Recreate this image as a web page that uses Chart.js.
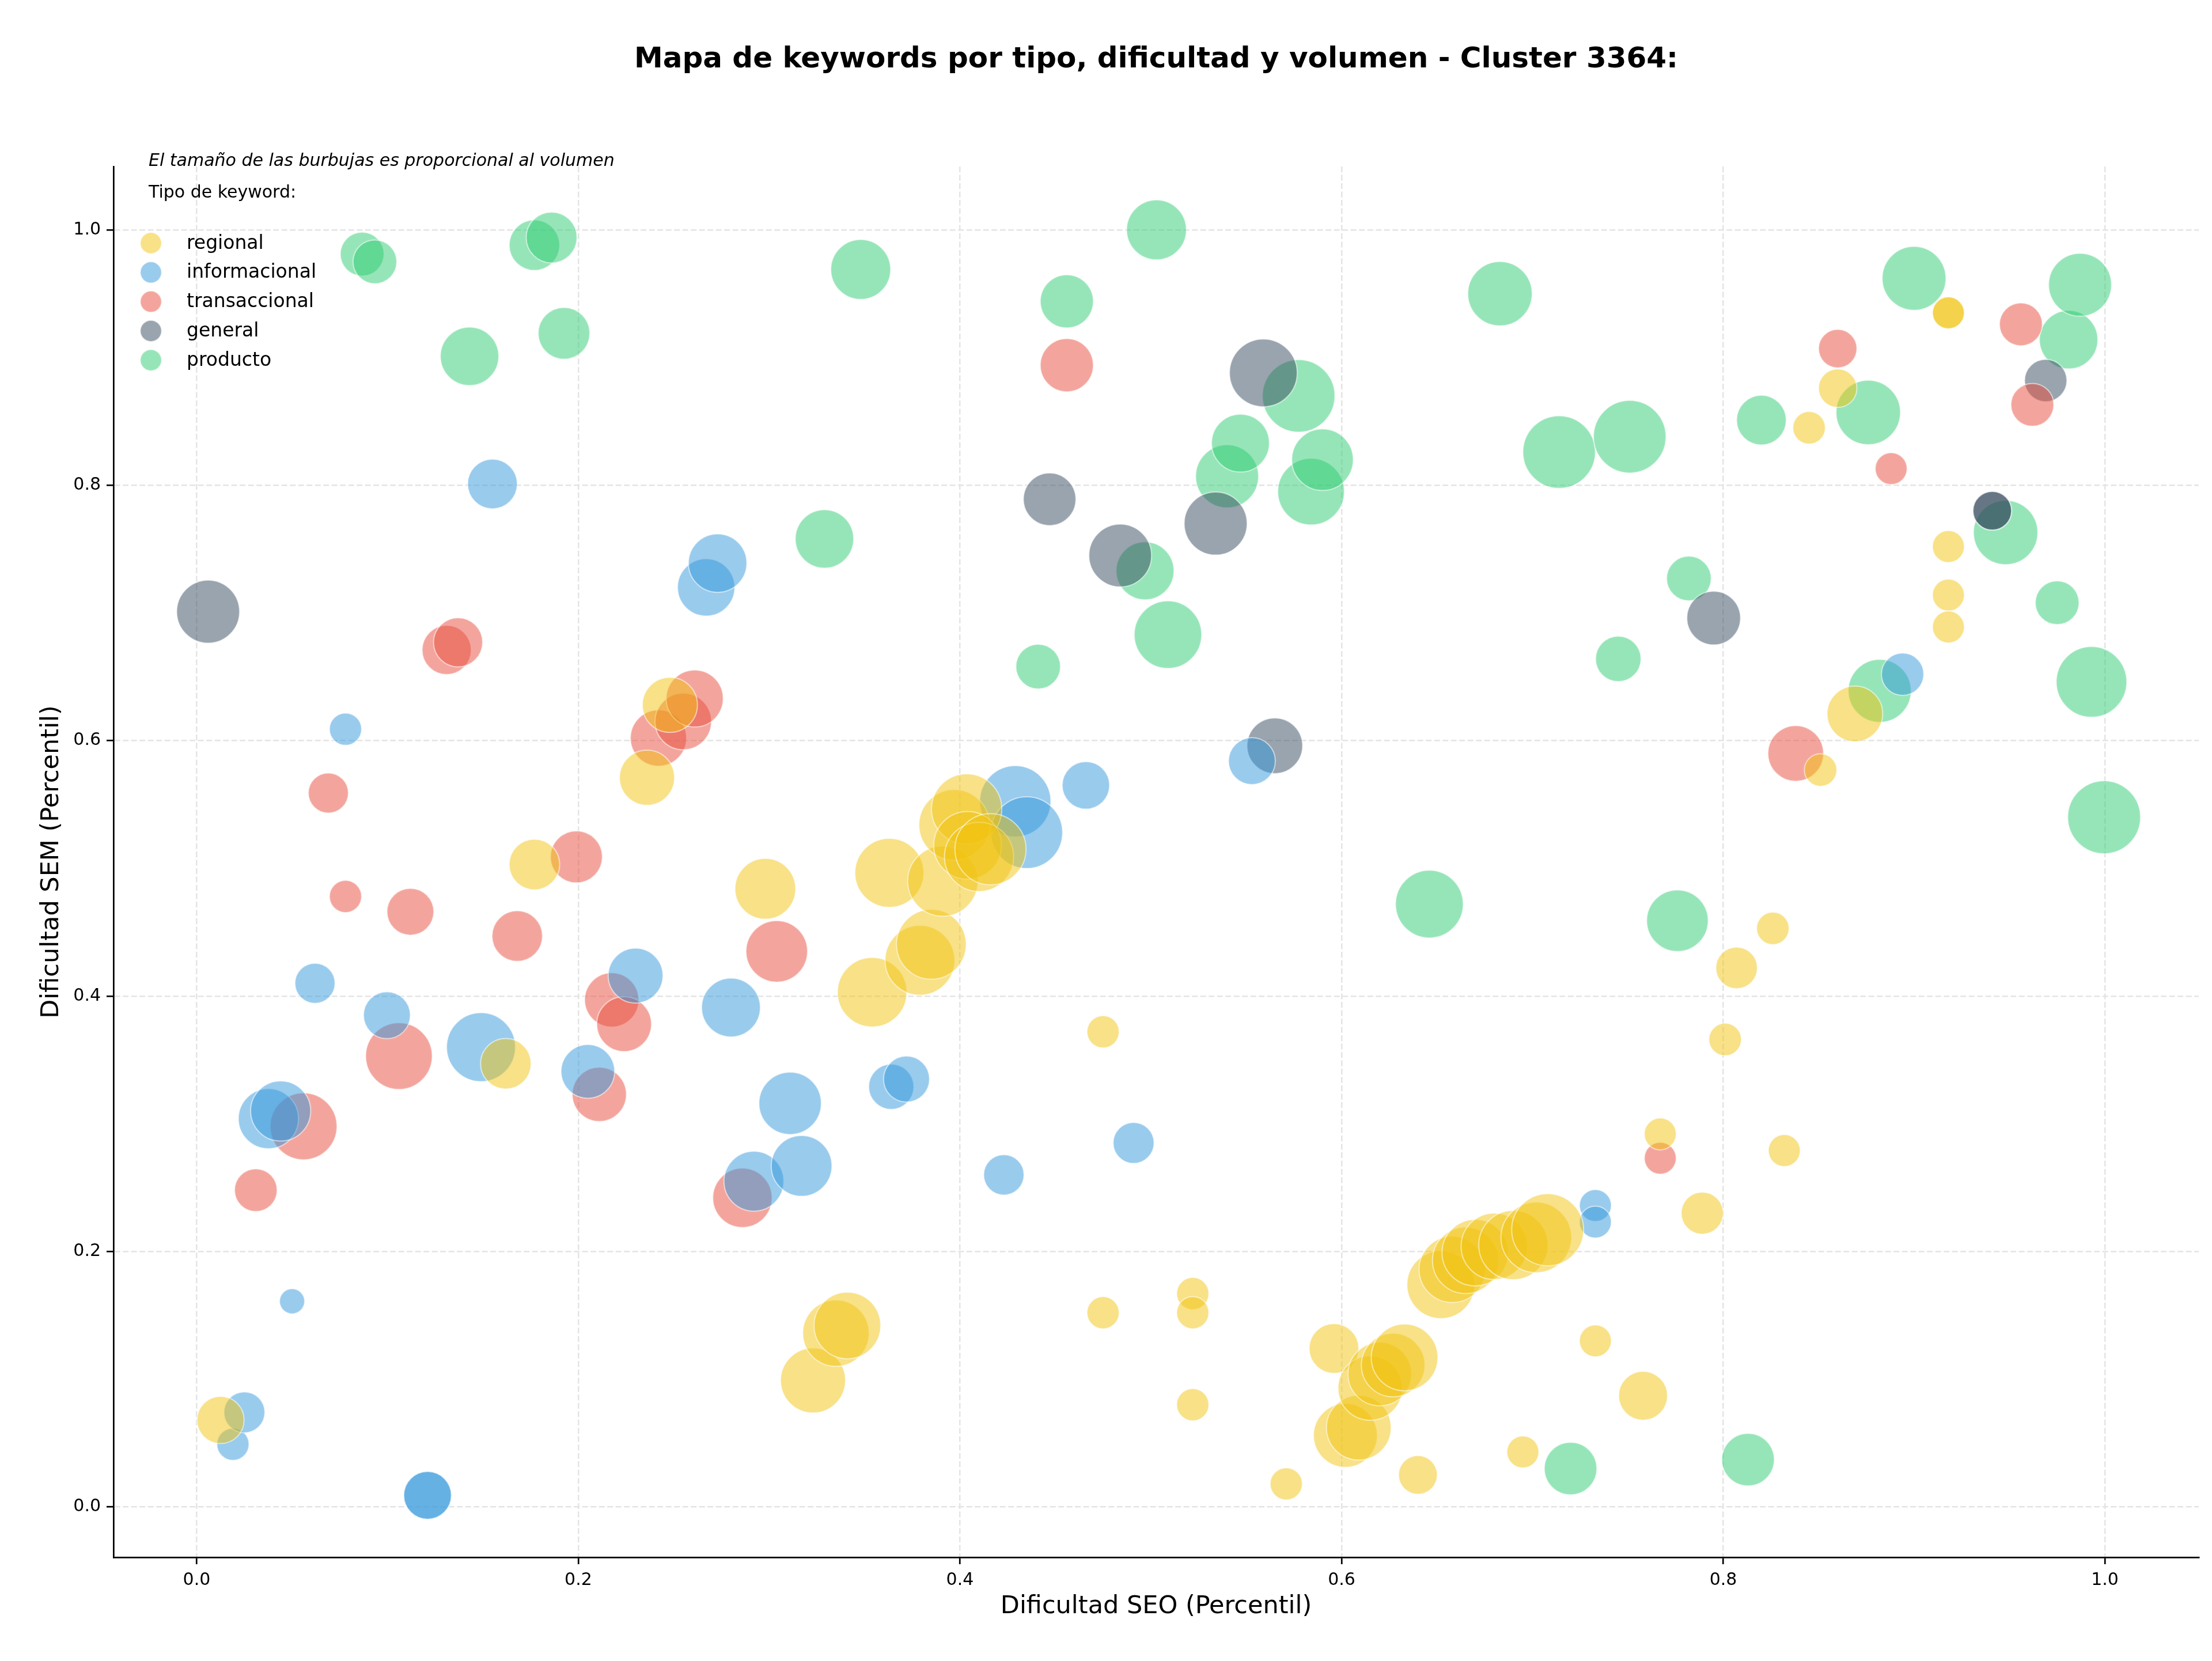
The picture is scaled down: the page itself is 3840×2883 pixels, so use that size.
<!DOCTYPE html>
<html>
<head>
<meta charset="utf-8">
<script src="https://cdn.jsdelivr.net/npm/chart.js@4.4.1/dist/chart.umd.min.js"></script>
<style>
  html, body { margin: 0; padding: 0; background: #fff; }
  #wrap { width: 3840px; height: 2883px; }
</style>
</head>
<body>
<div id="wrap"><canvas id="chart" width="3840" height="2883"></canvas></div>
<script>
// Tipos de keyword (orden de la leyenda)
const tipos = ['regional', 'informacional', 'transaccional', 'general', 'producto'];

// [dificultad SEO, dificultad SEM, volumen relativo]
const regional = [
  [0.0125, 0.068, 16.7], [0.162, 0.347, 17.9], [0.177, 0.503, 17.9], [0.236, 0.571, 19.5],
  [0.248, 0.628, 19.5], [0.298, 0.484, 21.5], [0.323, 0.099, 23], [0.335, 0.136, 23.5],
  [0.341, 0.142, 23.6], [0.354, 0.403, 24.6], [0.363, 0.4965, 24.4], [0.379, 0.428, 24.7],
  [0.385, 0.4405, 24.7], [0.391, 0.490, 24.9], [0.397, 0.534, 25], [0.4035, 0.5465, 24.9],
  [0.404, 0.518, 24], [0.410, 0.509, 24.5], [0.416, 0.515, 25.2], [0.475, 0.372, 11.4],
  [0.475, 0.152, 11.4], [0.522, 0.167, 11.4], [0.522, 0.152, 11.4], [0.522, 0.080, 11.4],
  [0.571, 0.018, 11.4], [0.596, 0.124, 17.6], [0.602, 0.056, 22.6], [0.609, 0.062, 22.9],
  [0.615, 0.093, 22.8], [0.620, 0.104, 22.5], [0.627, 0.111, 22.5], [0.633, 0.117, 23.6],
  [0.640, 0.025, 13.7], [0.652, 0.174, 24], [0.658, 0.186, 23.5], [0.665, 0.193, 23.5],
  [0.670, 0.199, 23.5], [0.680, 0.204, 23.5], [0.690, 0.205, 24.5], [0.702, 0.211, 25],
  [0.708, 0.217, 25.5], [0.695, 0.043, 11.3], [0.733, 0.130, 11.3], [0.758, 0.087, 17.3],
  [0.767, 0.292, 11.3], [0.789, 0.230, 14.9], [0.801, 0.366, 11.5], [0.807, 0.422, 14.7],
  [0.826, 0.453, 11.5], [0.832, 0.279, 11.3], [0.845, 0.845, 11.5], [0.851, 0.577, 11.5],
  [0.860, 0.876, 13.6], [0.869, 0.621, 19.7], [0.918, 0.935, 11.3], [0.918, 0.935, 11.3],
  [0.918, 0.752, 11.3], [0.918, 0.714, 11.3], [0.918, 0.689, 11.3]
];
const informacional = [
  [0.019, 0.049, 11.4], [0.025, 0.074, 14.5], [0.0376, 0.304, 21.3], [0.044, 0.310, 21.3],
  [0.050, 0.161, 8.9], [0.062, 0.410, 14.2], [0.078, 0.609, 11.4], [0.0997, 0.385, 16.6],
  [0.121, 0.009, 16.9], [0.121, 0.009, 16.9], [0.149, 0.360, 24.4], [0.155, 0.801, 17.6],
  [0.205, 0.341, 19], [0.230, 0.416, 19.4], [0.267, 0.720, 20.3], [0.273, 0.739, 20.7],
  [0.280, 0.391, 20.8], [0.292, 0.255, 21.2], [0.311, 0.316, 22.1], [0.317, 0.267, 21.5],
  [0.364, 0.329, 16], [0.372, 0.335, 16.3], [0.423, 0.260, 14.3], [0.429, 0.5525, 25.2],
  [0.435, 0.528, 25.4], [0.466, 0.565, 16.8], [0.491, 0.285, 14.5], [0.553, 0.584, 16.6],
  [0.733, 0.236, 11.3], [0.733, 0.223, 11.3], [0.894, 0.652, 15]
];
const transaccional = [
  [0.031, 0.248, 15.1], [0.056, 0.298, 23.7], [0.069, 0.559, 14.2], [0.078, 0.478, 11.4],
  [0.106, 0.353, 23.6], [0.112, 0.466, 16.6], [0.131, 0.671, 17.4], [0.137, 0.677, 17.4],
  [0.168, 0.447, 17.9], [0.199, 0.509, 18.4], [0.211, 0.323, 19.2], [0.2175, 0.397, 19.2],
  [0.224, 0.378, 19.4], [0.242, 0.602, 19.9], [0.255, 0.615, 20], [0.261, 0.633, 20.2],
  [0.286, 0.242, 21], [0.304, 0.435, 21.8], [0.456, 0.894, 18.8], [0.767, 0.273, 11.3],
  [0.838, 0.590, 19.7], [0.860, 0.907, 13.6], [0.888, 0.813, 11.3], [0.956, 0.926, 15.2],
  [0.962, 0.863, 15.2]
];
const general = [
  [0.006, 0.701, 22.3], [0.447, 0.789, 18.6], [0.484, 0.745, 22.2], [0.534, 0.770, 22.3],
  [0.559, 0.888, 24], [0.565, 0.596, 19.7], [0.795, 0.696, 19], [0.941, 0.780, 13.7],
  [0.941, 0.780, 13.7], [0.969, 0.882, 15]
];
const producto = [
  [0.0867, 0.981, 15.5], [0.0934, 0.975, 15.5], [0.143, 0.901, 20.7], [0.177, 0.988, 17.9],
  [0.186, 0.994, 18], [0.1925, 0.919, 18.3], [0.329, 0.758, 20.7], [0.348, 0.969, 21.2],
  [0.441, 0.658, 15.8], [0.456, 0.944, 18.8], [0.497, 0.733, 20.5], [0.503, 1.0, 21.2],
  [0.509, 0.683, 23.9], [0.540, 0.807, 22.3], [0.547, 0.833, 20.5], [0.5775, 0.870, 25.7],
  [0.584, 0.795, 23.6], [0.590, 0.820, 21.8], [0.646, 0.472, 24], [0.683, 0.950, 22.8],
  [0.714, 0.826, 25.7], [0.720, 0.030, 18.6], [0.745, 0.664, 16.1], [0.751, 0.838, 25.7],
  [0.776, 0.459, 21.8], [0.782, 0.727, 15.8], [0.813, 0.037, 18.6], [0.820, 0.851, 17.6],
  [0.876, 0.857, 22.8], [0.882, 0.639, 22.3], [0.900, 0.962, 22.6], [0.948, 0.763, 22.8],
  [0.975, 0.708, 15.5], [0.981, 0.914, 20.7], [0.987, 0.957, 22.3], [0.993, 0.646, 25],
  [0.9996, 0.540, 25.8]
];

const xTicks = [0.0, 0.2, 0.4, 0.6, 0.8, 1.0];
const yTicks = [0.0, 0.2, 0.4, 0.6, 0.8, 1.0];

const titulo = 'Mapa de keywords por tipo, dificultad y volumen - Cluster 3364:';
const nota = 'El tamaño de las burbujas es proporcional al volumen';
const tituloLeyenda = 'Tipo de keyword:';
const ejeX = 'Dificultad SEO (Percentil)';
const ejeY = 'Dificultad SEM (Percentil)';

// estilos
const colores = {
  regional: 'rgba(241,196,15,0.5)',
  informacional: 'rgba(52,152,219,0.5)',
  transaccional: 'rgba(231,76,60,0.5)',
  general: 'rgba(52,73,94,0.5)',
  producto: 'rgba(46,204,113,0.5)'
};
const borde = 'rgba(255,255,255,0.55)';
const escala = 2.449; // tamaño relativo -> px
const FONT = "'DejaVu Sans', sans-serif";

const series = { regional, informacional, transaccional, general, producto };

const datasets = tipos.map(t => ({
  label: t,
  data: series[t].map(p => ({ x: p[0], y: p[1], r: p[2] * escala })),
  backgroundColor: colores[t],
  borderColor: borde,
  borderWidth: 2
}));

const textos = {
  id: 'textos',
  afterDraw(chart) {
    const ctx = chart.ctx;
    const a = chart.chartArea;
    ctx.save();
    ctx.fillStyle = '#000';
    ctx.textBaseline = 'middle';
    ctx.textAlign = 'center';
    ctx.font = 'bold 50px ' + FONT;
    ctx.fillText(titulo, (a.left + a.right) / 2, 104);
    ctx.font = '43px ' + FONT;
    ctx.fillText(ejeX, (a.left + a.right) / 2, 2789);
    ctx.save();
    ctx.translate(90, (a.top + a.bottom) / 2);
    ctx.rotate(-Math.PI / 2);
    ctx.fillText(ejeY, 0, 0);
    ctx.restore();

    ctx.textAlign = 'left';
    ctx.font = 'italic 30px ' + FONT;
    ctx.fillText(nota, 258, 280);
    ctx.font = '30px ' + FONT;
    ctx.fillText(tituloLeyenda, 258, 335);

    ctx.font = '33px ' + FONT;
    tipos.forEach((t, i) => {
      const y = 422 + i * 50.8;
      ctx.beginPath();
      ctx.arc(262, y, 18.5, 0, Math.PI * 2);
      ctx.fillStyle = colores[t];
      ctx.fill();
      ctx.lineWidth = 2;
      ctx.strokeStyle = borde;
      ctx.stroke();
      ctx.fillStyle = '#000';
      ctx.fillText(t, 324, y + 1);
    });
    ctx.restore();
  }
};

const ejeComun = (ticks, min, max) => ({
  type: 'linear',
  min: min,
  max: max,
  afterBuildTicks: s => { s.ticks = ticks.map(v => ({ value: v })); },
  ticks: {
    includeBounds: false,
    color: '#000',
    font: { family: FONT, size: 30 },
    padding: 10,
    callback: v => Number(v).toFixed(1)
  },
  grid: {
    color: '#e4e4e4',
    lineWidth: 2.5,
    drawTicks: true,
    tickLength: 12,
    tickColor: '#000',
    tickWidth: 2.7
  },
  border: { display: true, color: '#000', width: 2.7, dash: [10, 4.5] }
});

const xScale = ejeComun(xTicks, -0.0436, 1.0492);
xScale.afterFit = s => {
  s.height = 180;
  s.paddingLeft = 0; s.paddingRight = 0;
};
const yScale = ejeComun(yTicks, -0.0395, 1.0496);
yScale.afterFit = s => {
  s.width = 197;
  s.paddingTop = 0; s.paddingBottom = 0;
};

new Chart(document.getElementById('chart'), {
  type: 'bubble',
  data: { datasets },
  options: {
    responsive: false,
    animation: false,
    devicePixelRatio: 1,
    layout: { autoPadding: false, padding: { top: 289, right: 23, bottom: 0, left: 0 } },
    plugins: {
      legend: { display: false },
      tooltip: { enabled: false },
      title: { display: false }
    },
    scales: { x: xScale, y: yScale }
  },
  plugins: [textos]
});
</script>
</body>
</html>
